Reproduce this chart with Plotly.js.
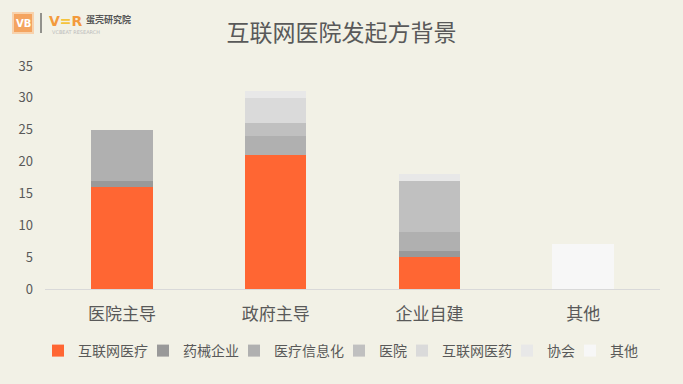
<!DOCTYPE html>
<html><head><meta charset="utf-8">
<script src="https://cdn.plot.ly/plotly-3.0.1.min.js"></script>
<style>html,body{margin:0;padding:0;background:#f2f1e6;}#chart{width:683px;height:384px;}</style>
</head><body><div id="chart"></div>
<script>
const categories = ['医院主导', '政府主导', '企业自建', '其他'];
const seriesNames = ['互联网医疗', '药械企业', '医疗信息化', '医院', '互联网医药', '协会', '其他'];
const s_internetMed = [16, 21, 5, 0];
const s_pharma = [1, 0, 1, 0];
const s_info = [8, 3, 3, 0];
const s_hospital = [0, 2, 8, 0];
const s_internetPharma = [0, 4, 0, 0];
const s_assoc = [0, 1, 1, 0];
const s_other = [0, 0, 0, 7];
const yTicks = [0, 5, 10, 15, 20, 25, 30, 35];
const colors = ['#ff6633', '#999999', '#b0b0b0', '#c0c0c0', '#dadada', '#e8e8e8', '#f7f7f7'];
const allSeries = [s_internetMed, s_pharma, s_info, s_hospital, s_internetPharma, s_assoc, s_other];
const font = '"Noto Sans CJK SC", "Microsoft YaHei", sans-serif';

// plot area in pixels: left 45, right 660, top 66, bottom 289
const PL = 45, PW = 615, PB = 289, PH = 223;
const px = x => (x - PL) / PW;
const py = y => (PB - y) / PH;

const legendLeftPx = [38, 143, 234, 339, 402, 507, 570];
const legendKeys = seriesNames.map((_, i) => i === 0 ? 'legend' : 'legend' + (i + 1));

const traces = allSeries.map((vals, i) => ({
  type: 'bar', name: seriesNames[i], x: categories, y: vals,
  legend: legendKeys[i],
  marker: {color: colors[i], line: {width: 0}}, hoverinfo: 'skip'
}));
const layout = {
  width: 683, height: 384,
  paper_bgcolor: '#f2f1e6', plot_bgcolor: '#f2f1e6',
  barmode: 'stack', bargap: 0.6,
  margin: {l: PL, r: 683 - PL - PW, t: PB - PH, b: 384 - PB},
  font: {family: font, color: '#595959'},
  title: {text: '互联网医院发起方背景', font: {size: 23, color: '#595959', family: font}, x: 0.5, xanchor: 'center', y: 0.915, yanchor: 'middle'},
  xaxis: {tickfont: {size: 17, color: '#595959'}, showline: true, linecolor: '#d9d9d9', linewidth: 1, ticks: '', showgrid: false, zeroline: false, ticklabelstandoff: 10},
  yaxis: {range: [0, 35], tickvals: yTicks, tickfont: {size: 13, color: '#595959'}, showgrid: false, zeroline: false, showline: false, ticks: '', ticklabelstandoff: 11},
  showlegend: true,
  shapes: [
    {type: 'rect', xref: 'paper', yref: 'paper', x0: px(13), x1: px(33), y0: py(33), y1: py(13), fillcolor: '#f4a460', line: {color: '#f8d2ac', width: 2}},
    {type: 'line', xref: 'paper', yref: 'paper', x0: px(41), x1: px(41), y0: py(33), y1: py(13), line: {color: '#333333', width: 1}}
  ],
  annotations: [
    {xref: 'paper', yref: 'paper', x: px(23), y: py(23), xanchor: 'center', yanchor: 'middle', text: '<b>VB</b>', showarrow: false, font: {size: 10, color: '#ffffff', family: 'DejaVu Sans'}},
    {xref: 'paper', yref: 'paper', x: px(47), y: py(21), xanchor: 'left', yanchor: 'middle', text: '<b>V<span style="color:#f5c33c">=</span>R</b>', showarrow: false, font: {size: 14, color: '#f39a3c', family: 'DejaVu Sans'}},
    {xref: 'paper', yref: 'paper', x: px(84), y: py(19), xanchor: 'left', yanchor: 'middle', text: '<b>蛋壳研究院</b>', showarrow: false, font: {size: 9, color: '#555555', family: font}},
    {xref: 'paper', yref: 'paper', x: px(50), y: py(32), xanchor: 'left', yanchor: 'middle', text: 'VCBEAT RESEARCH', showarrow: false, font: {size: 5, color: '#bbbbbb', family: 'DejaVu Sans'}}
  ]
};
legendKeys.forEach((k, i) => {
  layout[k] = {orientation: 'h', x: px(legendLeftPx[i]), xanchor: 'left', y: py(351), yanchor: 'middle',
    font: {size: 14, color: '#595959', family: font}, bgcolor: 'rgba(0,0,0,0)', borderwidth: 0, itemclick: false};
});
Plotly.newPlot('chart', traces, layout, {displayModeBar: false, staticPlot: true});
</script></body></html>
